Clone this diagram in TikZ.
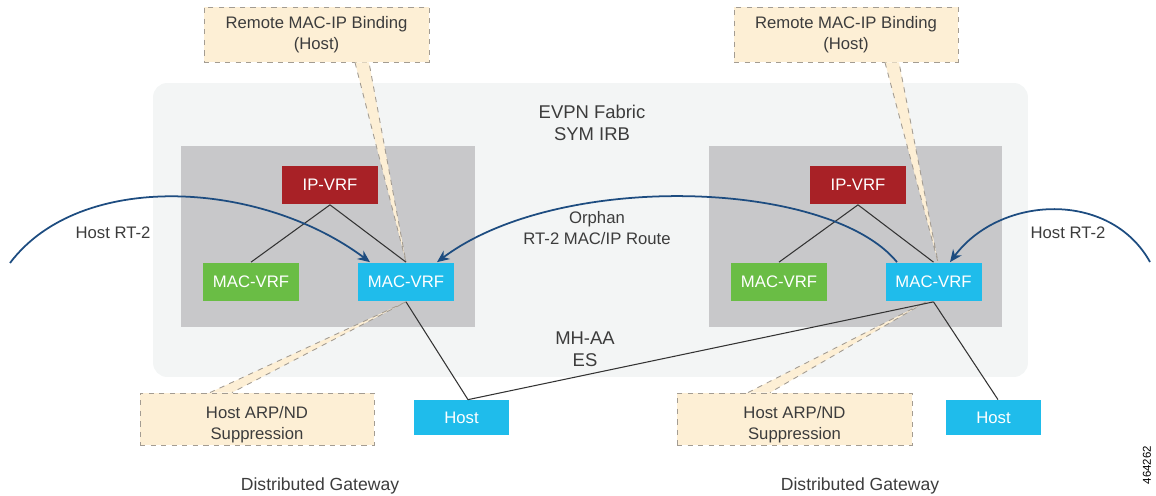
\documentclass[tikz,border=0pt]{standalone}
\usepackage{fontspec}
\setmainfont{Liberation Sans}
\usepackage{xcolor}
\usepackage{tikz}
\usetikzlibrary{arrows.meta}

\definecolor{fabricgray}{HTML}{F3F5F5}
\definecolor{boxgray}{HTML}{C8C8CA}
\definecolor{vrfred}{HTML}{A82126}
\definecolor{vrfgreen}{HTML}{6ABD45}
\definecolor{vrfblue}{HTML}{1FBCEB}
\definecolor{notefill}{HTML}{FDEFD5}
\definecolor{noteline}{HTML}{A39C92}
\definecolor{routeblue}{HTML}{1D4C80}
\definecolor{textgray}{HTML}{3C3C3C}

\begin{document}
\begin{tikzpicture}[x=0.02cm, y=-0.02cm,
    txt/.style={text=textgray, align=center, font=\fontsize{9.5}{12}\selectfont},
    bigtxt/.style={text=textgray, align=center, font=\fontsize{10.5}{12.5}\selectfont},
    vrf/.style={minimum width=1.92cm, minimum height=0.78cm, inner sep=0pt,
        text=white, font=\fontsize{9.5}{12}\selectfont},
    note/.style={fill=notefill, draw=noteline, dashed, line width=0.5pt,
        text=textgray, align=center, inner sep=0pt, font=\fontsize{9.5}{12}\selectfont},
    link/.style={draw=black!80, line width=0.6pt},
    route/.style={draw=routeblue, line width=1pt, -{Stealth[length=7pt, width=6pt]}},
    pointer/.style={draw=noteline, dashed, line width=0.5pt}]

        % Picture frame
        \useasboundingbox (0,0) rectangle (1156,496);

        % Fabric and the two gateways
        \node[fill=fabricgray, rounded corners=8pt, minimum width=17.5cm, minimum height=5.88cm] (fabric) at (590.5,230) {};
        \node[fill=boxgray, minimum width=5.88cm, minimum height=3.62cm] (gwL) at (328,236.5) {};
        \node[fill=boxgray, minimum width=5.86cm, minimum height=3.62cm] (gwR) at (855.5,236.5) {};

        % VRFs
        \node[vrf, fill=vrfred] (ipL) at (330,185) {IP-VRF};
        \node[vrf, fill=vrfgreen] (macgL) at (251,282) {MAC-VRF};
        \node[vrf, fill=vrfblue] (macL) at (406,282) {MAC-VRF};
        \node[vrf, fill=vrfred] (ipR) at (858,185) {IP-VRF};
        \node[vrf, fill=vrfgreen] (macgR) at (779,282) {MAC-VRF};
        \node[vrf, fill=vrfblue] (macR) at (933.5,282) {MAC-VRF};

        % Hosts
        \node[vrf, fill=vrfblue, minimum width=1.9cm, minimum height=0.7cm] (hostL) at (461.5,417.5) {Host};
        \node[vrf, fill=vrfblue, minimum width=1.9cm, minimum height=0.7cm] (hostR) at (993.5,417.5) {Host};

        % Callouts
        \node[note, minimum width=4.5cm, minimum height=1.1cm] (remL) at (316.5,34.5) {Remote MAC-IP Binding\\(Host)};
        \node[note, minimum width=4.48cm, minimum height=1.1cm] (remR) at (846,34.5) {Remote MAC-IP Binding\\(Host)};
        \node[note, minimum width=4.68cm, minimum height=1.04cm] (arpL) at (257,419) {};
        \node[note, minimum width=4.7cm, minimum height=1.04cm] (arpR) at (794.5,419) {};
        \node[txt] (arpLtxt) at ([yshift=-0.12cm]arpL.center) {Host ARP/ND\\Suppression};
        \node[txt] (arpRtxt) at ([yshift=-0.12cm]arpR.center) {Host ARP/ND\\Suppression};

        % Callout pointers
        \fill[notefill] ([xshift=0.77cm]remL.south) -- (macL.north) -- ([xshift=1.05cm]remL.south) -- cycle;
        \draw[pointer] ([xshift=0.77cm]remL.south) -- (macL.north) -- ([xshift=1.05cm]remL.south);
        \fill[notefill] ([xshift=0.78cm]remR.south) -- ([xshift=0.09cm]macR.north) -- ([xshift=1.06cm]remR.south) -- cycle;
        \draw[pointer] ([xshift=0.78cm]remR.south) -- ([xshift=0.09cm]macR.north) -- ([xshift=1.06cm]remR.south);
        \fill[notefill] ([xshift=-0.94cm]arpL.north) -- (macL.south) -- ([xshift=-0.5cm]arpL.north) -- cycle;
        \draw[pointer] ([xshift=-0.94cm]arpL.north) -- (macL.south) -- ([xshift=-0.5cm]arpL.north);
        \fill[notefill] ([xshift=-0.93cm]arpR.north) -- ([xshift=-0.15cm]macR.south) -- ([xshift=-0.49cm]arpR.north) -- cycle;
        \draw[pointer] ([xshift=-0.93cm]arpR.north) -- ([xshift=-0.15cm]macR.south) -- ([xshift=-0.49cm]arpR.north);

        % VRF links
        \draw[link] (ipL.south) -- (macgL.north);
        \draw[link] (ipL.south) -- (macL.north);
        \draw[link] (ipR.south) -- (macgR.north);
        \draw[link] (ipR.south) -- (macR.north);

        % Host links
        \draw[link] (macL.south) -- ([xshift=0.13cm]hostL.north);
        \draw[link] ([xshift=0.13cm]hostL.north) -- (macR.south);
        \draw[link] (macR.south) -- ([xshift=0.09cm]hostR.north);

        % Routes
        \coordinate (srcL) at (10,263);
        \coordinate (srcR) at (1150,262);
        \draw[route] (srcL) .. controls (80,170) and (260,180) .. ([xshift=-0.72cm]macL.north);
        \draw[route] ([xshift=-0.73cm]macR.north) .. controls (830,180) and (560,170) .. ([xshift=0.62cm]macL.north);
        \draw[route] (srcR) .. controls (1110,190) and (1000,195) .. ([xshift=0.33cm]macR.north);

        % Labels
        \node[bigtxt] (fabtxt) at (592,123) {EVPN Fabric\\SYM IRB};
        \node[txt] (orphan) at (597,228) {Orphan\\RT-2 MAC/IP Route};
        \node[bigtxt] (esi) at (585,349) {MH-AA\\ES};
        \node[txt] (rtL) at (113,233) {Host RT-2};
        \node[txt] (rtR) at (1068,233) {Host RT-2};
        \node[bigtxt, font=\fontsize{10}{12}\selectfont] (dgL) at (320,486) {Distributed Gateway};
        \node[bigtxt, font=\fontsize{10}{12}\selectfont] (dgR) at (860,486) {Distributed Gateway};
        \node[text=black, rotate=90, font=\fontsize{6.5}{8}\selectfont] (figid) at (1147,465) {464262};
\end{tikzpicture}
\end{document}
